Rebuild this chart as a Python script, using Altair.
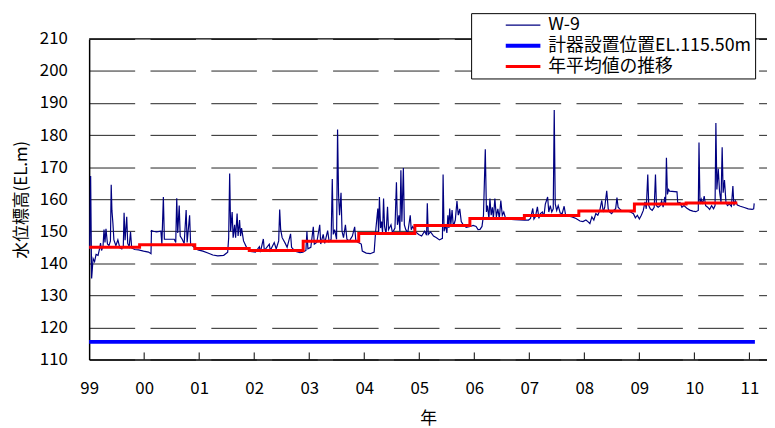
import altair as alt
import pandas as pd

FONT = "Noto Sans CJK JP"

# ---- W-9 observed water level (decimal year, EL.m) ----
w9_year = [
    1999.010, 1999.027, 1999.045, 1999.072, 1999.099, 1999.126, 1999.162, 1999.189, 1999.207, 1999.225,
    1999.252, 1999.270, 1999.288, 1999.306, 1999.333, 1999.360, 1999.387, 1999.401, 1999.414, 1999.432,
    1999.450, 1999.486, 1999.522, 1999.558, 1999.594, 1999.621, 1999.635, 1999.653, 1999.683, 1999.701,
    1999.728, 1999.752, 1999.773, 1999.827, 1999.899, 1999.989,
    2000.079, 2000.124, 2000.133, 2000.169, 2000.223, 2000.304, 2000.322, 2000.349, 2000.367, 2000.439,
    2000.547, 2000.574, 2000.592, 2000.610, 2000.637, 2000.655, 2000.691, 2000.727, 2000.763, 2000.781,
    2000.826, 2000.844, 2000.906, 2000.978,
    2001.068, 2001.158, 2001.248, 2001.338, 2001.446, 2001.518, 2001.536, 2001.554, 2001.572, 2001.599,
    2001.617, 2001.644, 2001.662, 2001.689, 2001.707, 2001.734, 2001.752, 2001.770, 2001.806, 2001.860,
    2001.932,
    2002.022, 2002.094, 2002.112, 2002.166, 2002.184, 2002.274, 2002.292, 2002.364, 2002.400, 2002.445,
    2002.463, 2002.481, 2002.508, 2002.562, 2002.598, 2002.661, 2002.679, 2002.742, 2002.832, 2002.885,
    2002.940, 2002.958, 2002.976,
    2003.029, 2003.074, 2003.092, 2003.137, 2003.191, 2003.209, 2003.254, 2003.281, 2003.335, 2003.362,
    2003.398, 2003.419, 2003.437, 2003.461, 2003.497, 2003.515, 2003.533, 2003.551, 2003.578, 2003.596,
    2003.623, 2003.658, 2003.685, 2003.730, 2003.784, 2003.826, 2003.847, 2003.892, 2003.946, 2003.964,
    2004.036, 2004.108, 2004.180, 2004.207, 2004.247, 2004.261, 2004.276, 2004.297, 2004.315, 2004.333,
    2004.351, 2004.369, 2004.396, 2004.423, 2004.441, 2004.486, 2004.513, 2004.558, 2004.585, 2004.603,
    2004.630, 2004.648, 2004.666, 2004.684, 2004.711, 2004.729, 2004.755, 2004.791, 2004.836, 2004.854,
    2004.881, 2004.935, 2004.989,
    2005.043, 2005.097, 2005.133, 2005.146, 2005.164, 2005.205, 2005.259, 2005.313, 2005.367, 2005.421,
    2005.433, 2005.451, 2005.475, 2005.502, 2005.520, 2005.538, 2005.553, 2005.574, 2005.596, 2005.619,
    2005.655, 2005.685, 2005.709, 2005.736, 2005.763, 2005.799, 2005.853, 2005.925, 2005.979,
    2006.033, 2006.068, 2006.104, 2006.140, 2006.167, 2006.200, 2006.221, 2006.239, 2006.266, 2006.284,
    2006.307, 2006.329, 2006.347, 2006.374, 2006.401, 2006.428, 2006.455, 2006.482, 2006.509, 2006.536,
    2006.572, 2006.734, 2006.914, 2006.986,
    2007.022, 2007.063, 2007.084, 2007.111, 2007.147, 2007.174, 2007.202, 2007.238, 2007.264, 2007.291,
    2007.333, 2007.354, 2007.381, 2007.408, 2007.435, 2007.453, 2007.471, 2007.498, 2007.525, 2007.561,
    2007.597, 2007.633, 2007.660, 2007.705, 2007.777, 2007.849, 2007.921, 2007.975,
    2008.029, 2008.065, 2008.101, 2008.137, 2008.173, 2008.209, 2008.245, 2008.281, 2008.317, 2008.344,
    2008.371, 2008.407, 2008.434, 2008.461, 2008.497, 2008.533, 2008.569, 2008.593, 2008.614, 2008.641,
    2008.677, 2008.731, 2008.785, 2008.839, 2008.893, 2008.928, 2008.964,
    2009.000, 2009.036, 2009.072, 2009.102, 2009.126, 2009.153, 2009.171, 2009.198, 2009.234, 2009.270,
    2009.293, 2009.311, 2009.342, 2009.378, 2009.405, 2009.432, 2009.463, 2009.477, 2009.492, 2009.510,
    2009.531, 2009.549, 2009.684, 2009.698, 2009.738, 2009.774, 2009.810, 2009.864, 2009.918, 2009.972,
    2010.026, 2010.071, 2010.084, 2010.102, 2010.125, 2010.151, 2010.178, 2010.205, 2010.241, 2010.277,
    2010.313, 2010.349, 2010.376, 2010.391, 2010.409, 2010.434, 2010.457, 2010.484, 2010.505, 2010.523,
    2010.547, 2010.574, 2010.601, 2010.637, 2010.673, 2010.700, 2010.718, 2010.745, 2010.781, 2010.835,
    2010.907, 2010.979, 2011.051, 2011.078, 2011.087,
]
w9_value = [
    144.5, 167.2, 135.3, 141.5, 140.5, 142.8, 142.5, 144.5, 146.3, 144.0,
    145.2, 150.5, 146.5, 150.8, 146.0, 145.5, 147.0, 164.5, 156.5, 152.5,
    147.3, 145.5, 147.3, 144.8, 144.5, 145.5, 155.8, 147.2, 154.5, 146.2,
    145.2, 149.8, 144.8, 144.3, 144.2, 143.8,
    143.5, 143.0, 150.2, 150.0, 149.8, 150.0, 146.0, 160.7, 147.5, 147.5,
    147.5, 146.5, 160.3, 149.5, 158.0, 148.5, 147.5, 146.2, 156.6, 146.5,
    155.0, 146.0, 145.0, 144.2,
    143.8, 143.2, 142.6, 142.3, 142.5, 143.5, 148.0, 168.0, 150.0, 156.0,
    148.0, 152.0, 148.0, 155.5, 148.5, 153.5, 148.5, 151.0, 147.0, 145.0,
    143.7,
    143.5, 145.2, 143.5, 147.6, 144.0, 146.0, 144.0, 146.5, 144.5, 147.0,
    156.8, 150.5, 148.0, 146.3, 145.0, 149.2, 145.0, 143.8, 143.3, 143.5,
    144.0, 150.0, 144.5,
    145.0, 151.4, 146.0, 146.5, 152.0, 146.0, 149.0, 146.2, 150.2, 146.8,
    147.5, 166.3, 149.0, 150.5, 147.5, 181.7, 161.5, 155.0, 162.0, 150.0,
    148.0, 152.0, 147.5, 147.0, 148.5, 151.4, 147.0, 146.5, 146.0, 143.8,
    143.2, 143.0, 143.5, 150.0, 157.1, 149.0, 160.7, 151.0, 153.0, 149.5,
    160.2, 151.5, 149.0, 157.6, 150.5, 152.0, 149.5, 151.0, 165.3, 152.0,
    155.0, 150.0, 169.0, 153.0, 169.7, 152.0, 150.5, 149.5, 155.0, 150.5,
    151.5, 149.8, 149.0,
    148.5, 150.0, 148.8, 158.7, 149.0, 149.8, 148.5, 148.0, 147.3, 147.8,
    167.7, 150.0, 152.0, 149.5, 155.0, 151.0, 157.1, 152.0, 156.6, 151.5,
    153.5, 159.4, 155.0, 157.0, 153.0, 152.0, 151.2, 151.5, 151.8,
    151.5, 150.5, 150.6, 151.5, 155.0, 175.6, 156.0, 158.0, 154.0, 160.2,
    155.0, 157.5, 154.0, 160.2, 154.5, 157.0, 154.0, 159.6, 155.0, 156.0,
    153.8, 153.6, 153.5, 153.5,
    154.0, 157.1, 153.8, 154.5, 157.6, 154.0, 155.5, 156.0, 154.5, 158.5,
    160.7, 156.0, 158.0, 156.0, 157.0, 187.8, 158.5, 156.5, 158.0, 155.7,
    155.5, 157.8, 155.0, 154.8, 154.5, 154.0, 153.2, 153.0,
    153.5, 153.0, 152.4, 154.5, 153.5, 155.5, 155.0, 156.5, 159.6, 156.0,
    157.5, 162.6, 157.0, 156.0, 155.5, 156.5, 157.0, 160.5, 157.5, 157.0,
    156.4, 156.4, 156.3, 156.0, 155.5, 154.2, 155.0,
    153.8, 155.0, 156.5, 159.2, 157.0, 167.7, 158.0, 157.0, 156.5, 157.5,
    167.7, 158.0, 157.5, 158.0, 159.5, 157.5, 160.7, 158.5, 172.9, 161.5,
    163.0, 162.5, 162.3, 158.8, 159.0, 157.5, 158.0, 157.2, 156.6, 156.3,
    156.1, 156.5, 177.7, 158.5, 160.0, 158.5, 161.0, 158.0, 157.5, 156.8,
    158.0, 157.0, 158.0, 183.8, 163.0, 169.5, 162.5, 159.0, 176.2, 162.0,
    166.0, 159.0, 158.0, 158.5, 157.8, 164.1, 158.0, 159.5, 158.2, 157.8,
    157.4, 157.0, 156.8, 157.0, 158.7,
]

# ---- annual mean (step line): start of each step and its value ----
mean_start = [1999.0, 1999.917, 2000.92, 2001.91, 2002.89, 2003.90,
              2004.92, 2005.92, 2006.91, 2007.90, 2008.91, 2009.85]
mean_value = [145.0, 145.8, 144.6, 144.0, 146.9, 149.3,
              151.8, 154.0, 154.9, 156.3, 158.5, 158.8]
mean_end = 2010.78

# ---- sensor installation level ----
sensor_year = [1999.0, 2011.1]
sensor_level = 115.5

# ---- axes ----
x_ticks = list(range(1999, 2012))
y_ticks = list(range(110, 211, 10))
x_domain = [1999.0, 2011.32]
y_domain = [110, 210]

series_names = ["W-9", "計器設置位置EL.115.50m", "年平均値の推移"]
series_colors = ["#000080", "#0000FF", "#FF0000"]
series_widths = [1.2, 4, 3]

df_w9 = pd.DataFrame({"year": w9_year, "value": w9_value, "series": series_names[0]})
df_sensor = pd.DataFrame({"year": sensor_year, "value": [sensor_level] * len(sensor_year),
                          "series": series_names[1]})
df_mean = pd.DataFrame({"year": mean_start + [mean_end],
                        "value": mean_value + [mean_value[-1]],
                        "series": series_names[2]})
df_top = pd.DataFrame({"value": [y_domain[1]]})
df_ticks = pd.DataFrame({"year": x_ticks[1:], "value": [y_domain[0]] * (len(x_ticks) - 1),
                         "hi": [y_domain[0] + 2.2] * (len(x_ticks) - 1)})

x_enc = alt.X(
    "year:Q",
    scale=alt.Scale(domain=x_domain, nice=False, zero=False),
    axis=alt.Axis(
        values=x_ticks,
        labelExpr="slice('0' + (datum.value % 100), -2)",
        title="年",
        grid=False,
        ticks=False,
        tickSize=0,
        labelPadding=21,
        titlePadding=15,
        labelFlush=False,
    ),
)
y_enc = alt.Y(
    "value:Q",
    scale=alt.Scale(domain=y_domain, nice=False, zero=False),
    axis=alt.Axis(
        values=y_ticks,
        title="水位標高(EL.m)",
        grid=True,
        gridDash=[46, 15.5],
        gridColor="#222222",
        gridWidth=1,
        ticks=False,
        tickSize=0,
        labelPadding=22,
        titlePadding=9,
        labelFlush=False,
    ),
)

legend = alt.Legend(
    title=None,
    orient="none",
    legendX=386,
    legendY=-26,
    symbolType="stroke",
    symbolSize=1225,
    clipHeight=18,
    symbolOffset=30,
    labelOffset=6,
    labelFont=FONT,
    labelFontSize=18,
    labelColor="black",
    labelLimit=400,
    strokeColor="black",
    fillColor="white",
    padding=3,
    rowPadding=3,
    cornerRadius=0,
)

color_enc = alt.Color("series:N", scale=alt.Scale(domain=series_names, range=series_colors), legend=legend)
width_enc = alt.StrokeWidth("series:N",
                            scale=alt.Scale(type="ordinal", domain=series_names, range=series_widths),
                            legend=legend)

lines = alt.Chart(pd.concat([df_w9, df_sensor])).mark_line().encode(
    x=x_enc, y=y_enc, color=color_enc, strokeWidth=width_enc
)
mean_line = alt.Chart(df_mean).mark_line(interpolate="step-after").encode(
    x=x_enc, y=y_enc, color=color_enc, strokeWidth=width_enc
)
inner_ticks = alt.Chart(df_ticks).mark_rule(color="black", strokeWidth=1).encode(
    x=x_enc, y=y_enc, y2="hi:Q"
)
top_line = alt.Chart(df_top).mark_rule(color="black", strokeWidth=1.2).encode(y=y_enc)

chart = (
    alt.layer(lines, mean_line, inner_ticks, top_line)
    .properties(
        width=685,
        height=324,
        autosize=alt.AutoSizeParams(type="none"),
        padding={"left": 82, "top": 29, "right": 0, "bottom": 67},
        background="white",
    )
    .configure_view(stroke=None)
    .configure_axis(
        labelFont=FONT,
        titleFont=FONT,
        labelFontSize=17,
        titleFontSize=17,
        labelColor="black",
        titleColor="black",
        titleFontWeight="normal",
        domainColor="black",
        domainWidth=1.5,
    )
)

chart.save("out.html", embed_options={"renderer": "svg", "actions": False})
